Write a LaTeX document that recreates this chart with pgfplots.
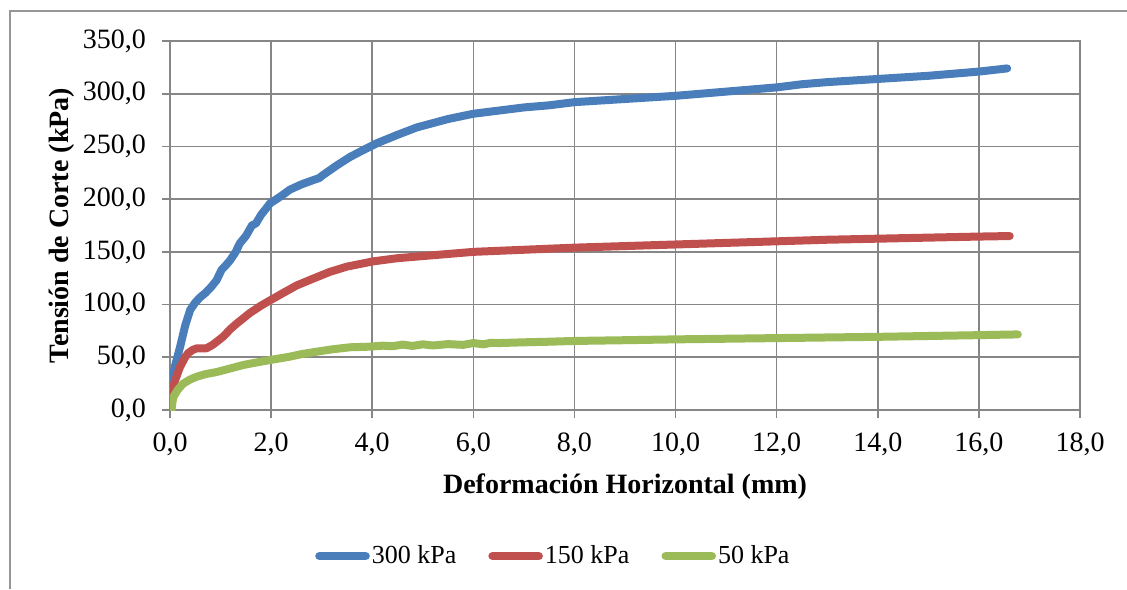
\documentclass[border=0pt]{standalone}
\usepackage{fontspec}
\setmainfont{Liberation Serif}
\usepackage{pgfplots}
\pgfplotsset{compat=1.18}
\definecolor{gridgray}{RGB}{134,134,134}
\definecolor{frame}{RGB}{150,150,150}
\definecolor{cblue}{RGB}{74,126,187}
\definecolor{cred}{RGB}{192,80,77}
\definecolor{cgreen}{RGB}{155,187,89}
\begin{document}
\begin{tikzpicture}
\useasboundingbox (0,0) rectangle (563.5pt,294.5pt);
\draw[frame, line width=0.6pt] (5pt,0pt) -- (5pt,289pt) -- (563.5pt,289pt);
\begin{axis}[
  at={(85pt,89.5pt)}, anchor=south west,
  scale only axis, width=455pt, height=184.5pt,
  xmin=0, xmax=18, ymin=0, ymax=350,
  xtick distance=2, ytick distance=50,
  grid=major,
  major grid style={gridgray, line width=0.8pt},
  axis line style={gridgray, line width=0.8pt},
  tick style={gridgray, line width=0.8pt},
  tick align=outside, major tick length=4pt,
  xtick pos=bottom, ytick pos=left,
  /pgf/number format/.cd, fixed, fixed zerofill, precision=1, use comma, assume math mode=true,
  /pgfplots/.cd,
  ticklabel style={font=\fontsize{14pt}{16pt}\selectfont},
  yticklabel style={xshift=-4.5pt},
  xticklabel style={yshift=-4pt},
  xlabel={Deformación Horizontal (mm)},
  ylabel={Tensión de Corte (kPa)},
  label style={font=\fontsize{14pt}{16pt}\selectfont\bfseries},
  xlabel style={at={(axis description cs:0.5,0)}, anchor=center, yshift=-38.5pt},
  ylabel style={at={(axis description cs:-0.1187,0.5)}, anchor=center},
  legend columns=3,
  legend style={draw=none, at={(axis description cs:0.4213,-0.396)}, anchor=center,
    font=\fontsize{13pt}{15pt}\selectfont,
    nodes={inner xsep=1pt},
    /tikz/every even column/.append style={column sep=15pt},
    inner sep=0pt},
  legend image code/.code={\draw[#1, line width=4.3pt, line cap=round] (0pt,0pt) -- (23pt,0pt);},
  every axis plot/.append style={line width=4pt, line cap=round, line join=round},
]
\addplot[cblue] coordinates {
(0.00,20) (0.03,25) (0.1,42) (0.2,60) (0.3,80) (0.4,95) (0.5,102) (0.6,107) (0.7,111)
(0.82,117) (0.92,123) (1.02,133) (1.1,137) (1.19,142) (1.3,150) (1.38,158) (1.5,165)
(1.62,175) (1.7,177) (1.8,185) (1.98,196) (2.2,203) (2.37,209) (2.6,214) (2.83,218)
(2.95,220) (3.03,223) (3.3,232) (3.56,240) (3.8,246) (4.09,253) (4.5,261) (4.88,268)
(5.5,276) (6.0,281) (6.5,284) (7.0,287) (7.5,289) (8.0,292) (9.0,295) (10.0,298)
(11.0,302) (12.0,306) (12.5,309) (13.0,311) (14.0,314) (15.0,317) (16.0,321) (16.56,324)
};
\addlegendentry{300 kPa}
\addplot[cred] coordinates {
(0.0,12) (0.03,16) (0.1,28) (0.2,41) (0.3,50) (0.36,54) (0.45,57) (0.53,58.5) (0.72,58.5)
(0.85,62) (1.05,69.5) (1.2,77) (1.32,82) (1.45,87) (1.58,92) (1.8,99) (1.98,104)
(2.2,110) (2.5,118) (2.8,124) (3.16,131) (3.5,136) (4.02,141) (4.5,144) (5.0,146)
(6.0,150) (7.0,152) (8.0,154) (9.0,155.5) (10.0,157) (11.0,158.5) (12.0,160)
(13.0,161.5) (14.0,162.5) (15.0,163.5) (16.0,164.5) (16.61,165)
};
\addlegendentry{150 kPa}
\addplot[cgreen] coordinates {
(0.03,0) (0.05,8) (0.07,12.6) (0.15,19) (0.26,25) (0.4,29) (0.53,31.6) (0.7,34)
(0.92,36) (1.2,39.5) (1.45,42.7) (1.7,45) (1.98,47.4) (2.37,50.6) (2.6,53) (2.9,55.3)
(3.2,57.5) (3.56,59.5) (3.9,60) (4.22,61) (4.4,60.5) (4.6,62) (4.8,60.8) (5.0,62.3)
(5.2,61.2) (5.5,62.5) (5.8,61.8) (6.0,63.5) (6.2,62.3) (6.35,63.8) (6.5,63.5)
(7.0,64.2) (7.52,64.8) (8.0,65.5) (9.0,66.2) (10.0,67) (11.0,67.6) (12.0,68.2)
(13.0,68.8) (14.0,69.4) (15.0,70.2) (16.0,71) (16.77,71.7)
};
\addlegendentry{50 kPa}
\end{axis}
\end{tikzpicture}
\end{document}
